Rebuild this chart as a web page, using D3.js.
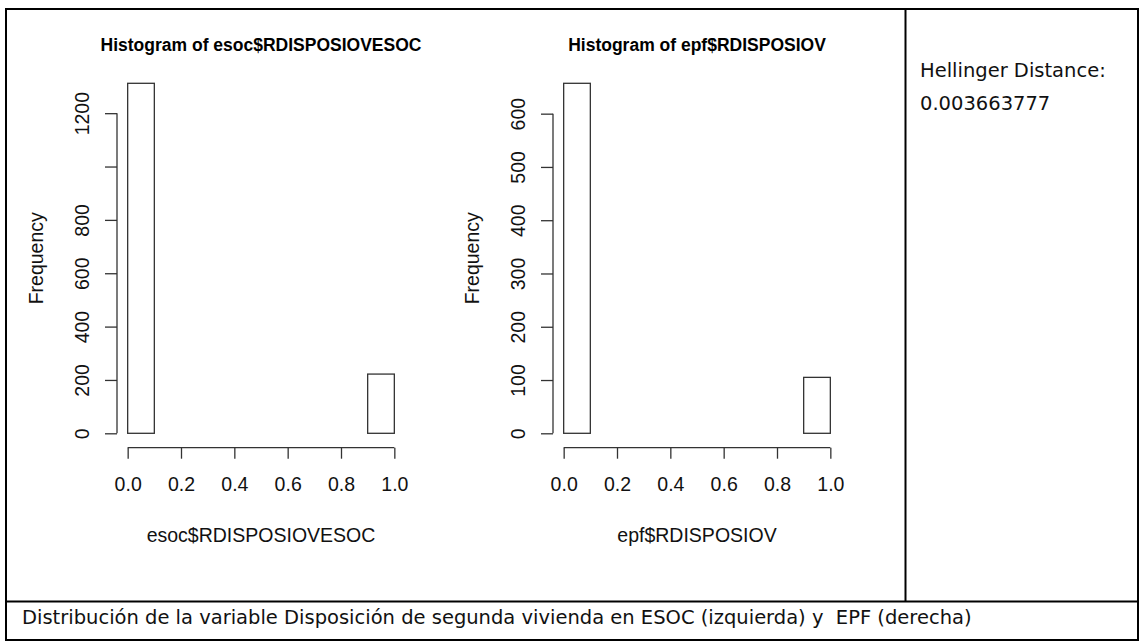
<!DOCTYPE html>
<html>
<head>
<meta charset="utf-8">
<script src="https://cdn.jsdelivr.net/npm/d3@7"></script>
<style>
  html, body { margin: 0; padding: 0; background: #fff; }
  svg { display: block; }
</style>
</head>
<body>
<script>
// Histogram bins (breaks 0, 0.1, ..., 1.0) and counts per bin
const binBreaks = [0, 0.1, 0.2, 0.3, 0.4, 0.5, 0.6, 0.7, 0.8, 0.9, 1.0];
const esocCounts = [1312, 0, 0, 0, 0, 0, 0, 0, 0, 222];
const epfCounts = [657, 0, 0, 0, 0, 0, 0, 0, 0, 105];

// Axis ticks and labels
const xTicks = [0, 0.2, 0.4, 0.6, 0.8, 1.0];
const xTickLabels = ["0.0", "0.2", "0.4", "0.6", "0.8", "1.0"];
const esocYTicks = [0, 200, 400, 600, 800, 1000, 1200];
const esocYLabels = ["0", "200", "400", "600", "800", "", "1200"];
const epfYTicks = [0, 100, 200, 300, 400, 500, 600];
const epfYLabels = ["0", "100", "200", "300", "400", "500", "600"];

// Text content
const titles = ["Histogram of esoc$RDISPOSIOVESOC", "Histogram of epf$RDISPOSIOV"];
const xLabels = ["esoc$RDISPOSIOVESOC", "epf$RDISPOSIOV"];
const yLabel = "Frequency";
const distanceLines = ["Hellinger Distance:", "0.003663777"];
const caption = "Distribución de la variable Disposición de segunda vivienda en ESOC (izquierda) y\u00a0 EPF (derecha)";

const W = 1140, H = 641;
const svg = d3.select("body").append("svg").attr("width", W).attr("height", H);

const axisFont = "'Liberation Sans', Arial, sans-serif";
const ink = "#333";

// Table frame around the figure, side note and caption
const frame = svg.append("g").attr("stroke", "#000").attr("stroke-width", 2).attr("fill", "none");
frame.append("rect").attr("x", 6).attr("y", 9).attr("width", 1132).attr("height", 631);
frame.append("line").attr("x1", 905.5).attr("x2", 905.5).attr("y1", 9).attr("y2", 601.5);
frame.append("line").attr("x1", 6).attr("x2", 1138).attr("y1", 601.5).attr("y2", 601.5);

// One base-graphics style histogram panel
function histogram(left, counts, yTicks, yTickLabels, title, xLabel) {
  const region = { x0: left, x1: left + 288, y0: 447.3, y1: 69.3 };
  const maxCount = d3.max(counts);
  const x = d3.scaleLinear().domain([-0.04, 1.04]).range([region.x0, region.x1]);
  const y = d3.scaleLinear().domain([-0.04 * maxCount, 1.04 * maxCount]).range([region.y0, region.y1]);
  const g = svg.append("g");

  const bins = counts.map((c, i) => ({ a: binBreaks[i], b: binBreaks[i + 1], c }));
  g.selectAll("rect.bar").data(bins).join("rect")
    .attr("class", "bar")
    .attr("x", d => x(d.a))
    .attr("y", d => y(d.c))
    .attr("width", d => x(d.b) - x(d.a))
    .attr("height", d => y(0) - y(d.c))
    .attr("fill", "#fff")
    .attr("stroke", ink)
    .attr("stroke-width", 1.3);

  // x axis: line spans first to last tick
  const xa = g.append("g").attr("transform", `translate(0,${region.y0 + 0.4})`)
    .call(d3.axisBottom(x).tickValues(xTicks).tickSize(11).tickSizeOuter(0).tickPadding(18)
      .tickFormat((d, i) => xTickLabels[i]));
  xa.select(".domain").remove();
  xa.append("line").attr("x1", x(xTicks[0])).attr("x2", x(xTicks[xTicks.length - 1]))
    .attr("stroke", ink).attr("stroke-width", 1.3);
  xa.selectAll(".tick line").attr("stroke", ink).attr("stroke-width", 1.3);
  xa.selectAll(".tick text").attr("font-family", axisFont).attr("font-size", 19.5).attr("fill", "#111");

  // y axis with labels parallel to the axis
  const ya = g.append("g").attr("transform", `translate(${region.x0},0)`)
    .call(d3.axisLeft(y).tickValues(yTicks).tickSize(12).tickSizeOuter(0)
      .tickFormat((d, i) => yTickLabels[i]));
  ya.select(".domain").remove();
  ya.append("line").attr("y1", y(yTicks[0])).attr("y2", y(yTicks[yTicks.length - 1]))
    .attr("stroke", ink).attr("stroke-width", 1.3);
  ya.selectAll(".tick line").attr("stroke", ink).attr("stroke-width", 1.3);
  ya.selectAll(".tick text")
    .attr("x", null).attr("dy", null)
    .attr("transform", "translate(-28,0) rotate(-90)")
    .attr("text-anchor", "middle")
    .attr("font-family", axisFont).attr("font-size", 19.5).attr("fill", "#111");

  // Title and axis titles
  const cx = x(0.5);
  g.append("text").attr("x", cx).attr("y", 50.5).attr("text-anchor", "middle")
    .attr("font-family", axisFont).attr("font-weight", "bold").attr("font-size", 17.5)
    .attr("fill", "#000").text(title);
  g.append("text").attr("x", cx).attr("y", 541.5).attr("text-anchor", "middle")
    .attr("font-family", axisFont).attr("font-size", 19.5).attr("fill", "#111").text(xLabel);
  g.append("text")
    .attr("transform", `translate(${region.x0 - 74},${(region.y0 + region.y1) / 2}) rotate(-90)`)
    .attr("text-anchor", "middle")
    .attr("font-family", axisFont).attr("font-size", 19.5).attr("fill", "#111").text(yLabel);
}

histogram(117, esocCounts, esocYTicks, esocYLabels, titles[0], xLabels[0]);
histogram(553, epfCounts, epfYTicks, epfYLabels, titles[1], xLabels[1]);

// Side note with the distance value
const noteFont = "Verdana, 'DejaVu Sans', sans-serif";
svg.append("g").selectAll("text").data(distanceLines).join("text")
  .attr("x", 920).attr("y", (d, i) => 77 + i * 33)
  .attr("font-family", noteFont).attr("font-size", 19.5).attr("fill", "#111")
  .text(d => d);

// Caption row, same type size as the side note
svg.append("text").attr("x", 22).attr("y", 624)
  .attr("font-family", noteFont).attr("font-size", 19.5).attr("fill", "#111")
  .text(caption);
</script>
</body>
</html>
